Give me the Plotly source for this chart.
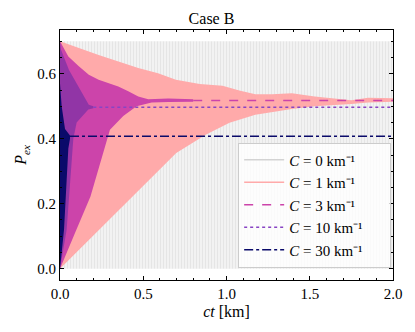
import plotly.graph_objects as go

# ---------------------------------------------------------
# Data (envelopes of the oscillations)
# ---------------------------------------------------------

# C = 0 : full-amplitude oscillation, 0 .. 0.70
c0_x = [0.0, 2.0]
c0_hi = [0.70, 0.70]
c0_lo = [0.0, 0.0]

# C = 1
c1_up_x = [0.0, 0.113, 0.232, 0.351, 0.47, 0.589, 0.696, 0.839, 0.976,
           1.077, 1.173, 1.274, 1.393, 1.53, 1.65, 1.75, 1.85, 2.0]
c1_up_y = [0.70, 0.679, 0.658, 0.638, 0.618, 0.602, 0.582, 0.569, 0.563,
           0.549, 0.537, 0.537, 0.54, 0.53, 0.524, 0.519, 0.526, 0.525]
c1_lo_x = [0.0, 0.192, 0.39, 0.589, 0.698, 0.875, 1.018, 1.173, 1.274,
           1.393, 1.53, 1.65, 1.75, 1.85, 2.0]
c1_lo_y = [0.0, 0.098, 0.20, 0.30, 0.356, 0.412, 0.449, 0.474, 0.483,
           0.492, 0.50, 0.503, 0.507, 0.512, 0.514]

# C = 3
c3_up_x = [0.0, 0.05, 0.113, 0.173, 0.232, 0.29, 0.35, 0.41, 0.47, 0.53, 0.65, 0.8]
c3_up_y = [0.70, 0.653, 0.623, 0.597, 0.582, 0.571, 0.561, 0.546, 0.53, 0.522, 0.524, 0.522]
c3_lo_x = [0.0, 0.09, 0.183, 0.24, 0.30, 0.38, 0.46, 0.55, 0.65, 0.8]
c3_lo_y = [0.0, 0.11, 0.222, 0.32, 0.428, 0.47, 0.50, 0.512, 0.513, 0.514]
c3_tail_x = [0.8, 2.0]
c3_tail_y = [0.518, 0.518]

# C = 10
c10_up_x = [0.0, 0.006, 0.054, 0.113, 0.173, 0.2]
c10_up_y = [0.70, 0.674, 0.612, 0.56, 0.505, 0.50]
c10_lo_x = [0.0, 0.04, 0.07, 0.08, 0.10, 0.17, 0.2]
c10_lo_y = [0.0, 0.12, 0.33, 0.40, 0.45, 0.49, 0.494]
c10_tail_x = [0.2, 2.0]
c10_tail_y = [0.497, 0.497]

# C = 30
c30_up_x = [0.0, 0.01, 0.03, 0.06]
c30_up_y = [0.57, 0.50, 0.43, 0.41]
c30_lo_x = [0.0, 0.024, 0.05, 0.06]
c30_lo_y = [0.0, 0.12, 0.37, 0.40]
c30_tail_x = [0.06, 2.0]
c30_tail_y = [0.408, 0.408]

labels = ["<i>C</i> = 0 km⁻¹", "<i>C</i> = 1 km⁻¹",
          "<i>C</i> = 3 km⁻¹", "<i>C</i> = 10 km⁻¹",
          "<i>C</i> = 30 km⁻¹"]
colors = ["#d3d3d3", "#ffaaaa", "#cc44aa", "#8844c4", "#0a0a6a"]
dashes = ["solid", "solid", "dash", "dot", "dashdot"]

FONT = "Liberation Serif"


def band(xu, yu, xl, yl, color):
    return go.Scatter(
        x=list(xu) + list(xl)[::-1],
        y=list(yu) + list(yl)[::-1],
        fill="toself",
        fillcolor=color,
        line=dict(width=0),
        mode="lines",
        showlegend=False,
        hoverinfo="skip",
    )


fig = go.Figure()

# C = 0 : striped band
fig.add_trace(go.Scatter(
    x=c0_x + c0_x[::-1],
    y=c0_hi + c0_lo[::-1],
    fill="toself",
    fillcolor="#f4f4f4",
    fillpattern=dict(shape="|", fgcolor="#d6d6d6", bgcolor="#f4f4f4",
                     size=3, solidity=0.45),
    line=dict(width=0),
    mode="lines",
    showlegend=False,
))

fig.add_trace(band(c1_up_x, c1_up_y, c1_lo_x, c1_lo_y, colors[1]))
fig.add_trace(band(c3_up_x, c3_up_y, c3_lo_x, c3_lo_y, colors[2]))
fig.add_trace(go.Scatter(x=c3_tail_x, y=c3_tail_y, mode="lines",
                         line=dict(color=colors[2], width=1.5, dash="dash"),
                         showlegend=False))
fig.add_trace(band(c10_up_x, c10_up_y, c10_lo_x, c10_lo_y, "rgba(130,50,165,0.8)"))
fig.add_trace(go.Scatter(x=c10_tail_x, y=c10_tail_y, mode="lines",
                         line=dict(color=colors[3], width=1.5, dash="dot"),
                         showlegend=False))
fig.add_trace(band(c30_up_x, c30_up_y, c30_lo_x, c30_lo_y, colors[4]))
fig.add_trace(go.Scatter(x=c30_tail_x, y=c30_tail_y, mode="lines",
                         line=dict(color=colors[4], width=1.5, dash="dashdot"),
                         showlegend=False))

# legend entries (trailing spaces widen the box like the original)
for lab, col, dsh in zip(labels, colors, dashes):
    fig.add_trace(go.Scatter(x=[None], y=[None], mode="lines",
                             name=lab + "\u00a0" * 6,
                             line=dict(color=col, width=1.5, dash=dsh)))

axis_common = dict(
    showline=True, linecolor="black", linewidth=1, mirror="allticks",
    ticks="inside", ticklen=4, tickcolor="black", showgrid=False, zeroline=False,
    tickfont=dict(family=FONT, size=15, color="black"),
)

fig.update_xaxes(
    range=[0, 2], dtick=0.5, tick0=0, tickformat=".1f",
    minor=dict(dtick=0.1, ticks="inside", ticklen=2, tickcolor="black"),
    title=dict(text="<i>ct</i> [km]", font=dict(family=FONT, size=16), standoff=4),
    **axis_common,
)
fig.update_yaxes(
    range=[-0.035, 0.735], dtick=0.2, tick0=0, tickformat=".1f",
    minor=dict(dtick=0.05, ticks="inside", ticklen=2, tickcolor="black"),
    title=dict(text="<i>P<sub>ex</sub></i>", font=dict(family=FONT, size=16), standoff=6),
    **axis_common,
)

# the page body adds an 8 px margin, so the figure is 8 px smaller
fig.update_layout(
    width=407, height=324,
    margin=dict(l=47, r=22, t=22, b=52),
    paper_bgcolor="white", plot_bgcolor="white",
    title=dict(text="Case B", x=0.5, xanchor="center", yref="container", y=0.985,
               yanchor="top",
               font=dict(family=FONT, size=16, color="black")),
    font=dict(family=FONT, size=15, color="black"),
    legend=dict(x=0.535, y=0.55, xanchor="left", yanchor="top",
                bgcolor="rgba(255,255,255,0.8)", bordercolor="#cccccc",
                borderwidth=1, font=dict(family=FONT, size=15),
                itemwidth=40, tracegroupgap=0),
    showlegend=True,
)

fig.write_html("out.html")
